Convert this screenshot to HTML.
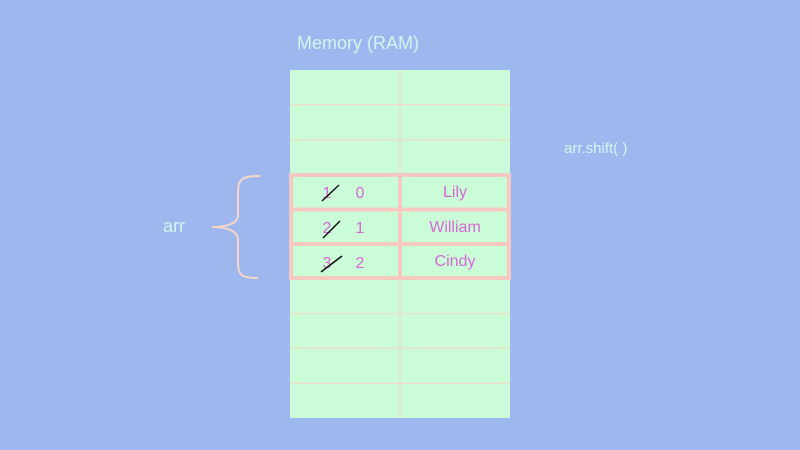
<!DOCTYPE html>
<html><head><style>
body{margin:0;width:800px;height:450px;background:#9eb8ef;position:relative;overflow:hidden;font-family:"Liberation Sans",sans-serif}
.t{position:absolute;white-space:nowrap}
</style></head><body>
<div class="t" style="left:297px;top:33px;font-size:18px;color:#d2f5ec">Memory (RAM)</div>
<div class="t" style="left:564px;top:140px;font-size:15px;color:#d2f5ec">arr.shift( )</div>
<div class="t" style="left:163px;top:216px;font-size:18px;color:#d2f5ec">arr</div>
<svg width="800" height="450" style="position:absolute;left:0;top:0">
<rect x="290" y="70" width="220" height="348" fill="#cbfcd8"/>
<g stroke="#ecdccc" stroke-width="1.5">
<line x1="290" y1="104.8" x2="510" y2="104.8"/>
<line x1="290" y1="139.6" x2="510" y2="139.6"/>
<line x1="290" y1="313.6" x2="510" y2="313.6"/>
<line x1="290" y1="348.4" x2="510" y2="348.4"/>
<line x1="290" y1="383.2" x2="510" y2="383.2"/>
<line x1="400" y1="70" x2="400" y2="418"/>
</g>
<g stroke="#f7c8c0" stroke-width="4" fill="none">
<rect x="291" y="175" width="218" height="103"/>
<line x1="291" y1="209.5" x2="509" y2="209.5"/>
<line x1="291" y1="244" x2="509" y2="244"/>
<line x1="400" y1="175" x2="400" y2="278"/>
</g>
<path d="M260 176 C240 176 238 180 238 195 L238 215 C238 224 225 227 212 227 C225 227 238 230 238 240 L238 262 C238 276 242 278 258 278" stroke="#f7d5c8" stroke-width="2" fill="none"/>
<g font-family="Liberation Sans,sans-serif" font-size="16" fill="#d866d4" text-anchor="middle">
<text x="327" y="198">1</text><text x="360" y="198">0</text>
<text x="327" y="233">2</text><text x="360" y="233">1</text>
<text x="327" y="268">3</text><text x="360" y="268">2</text>
<text x="455" y="197">Lily</text>
<text x="455" y="232">William</text>
<text x="455" y="266">Cindy</text>
</g>
<g stroke="#111" stroke-width="1.5">
<line x1="322" y1="201" x2="339" y2="185"/>
<line x1="323" y1="238" x2="340" y2="221"/>
<line x1="321" y1="272" x2="342" y2="256"/>
</g>
</svg>
</body></html>
